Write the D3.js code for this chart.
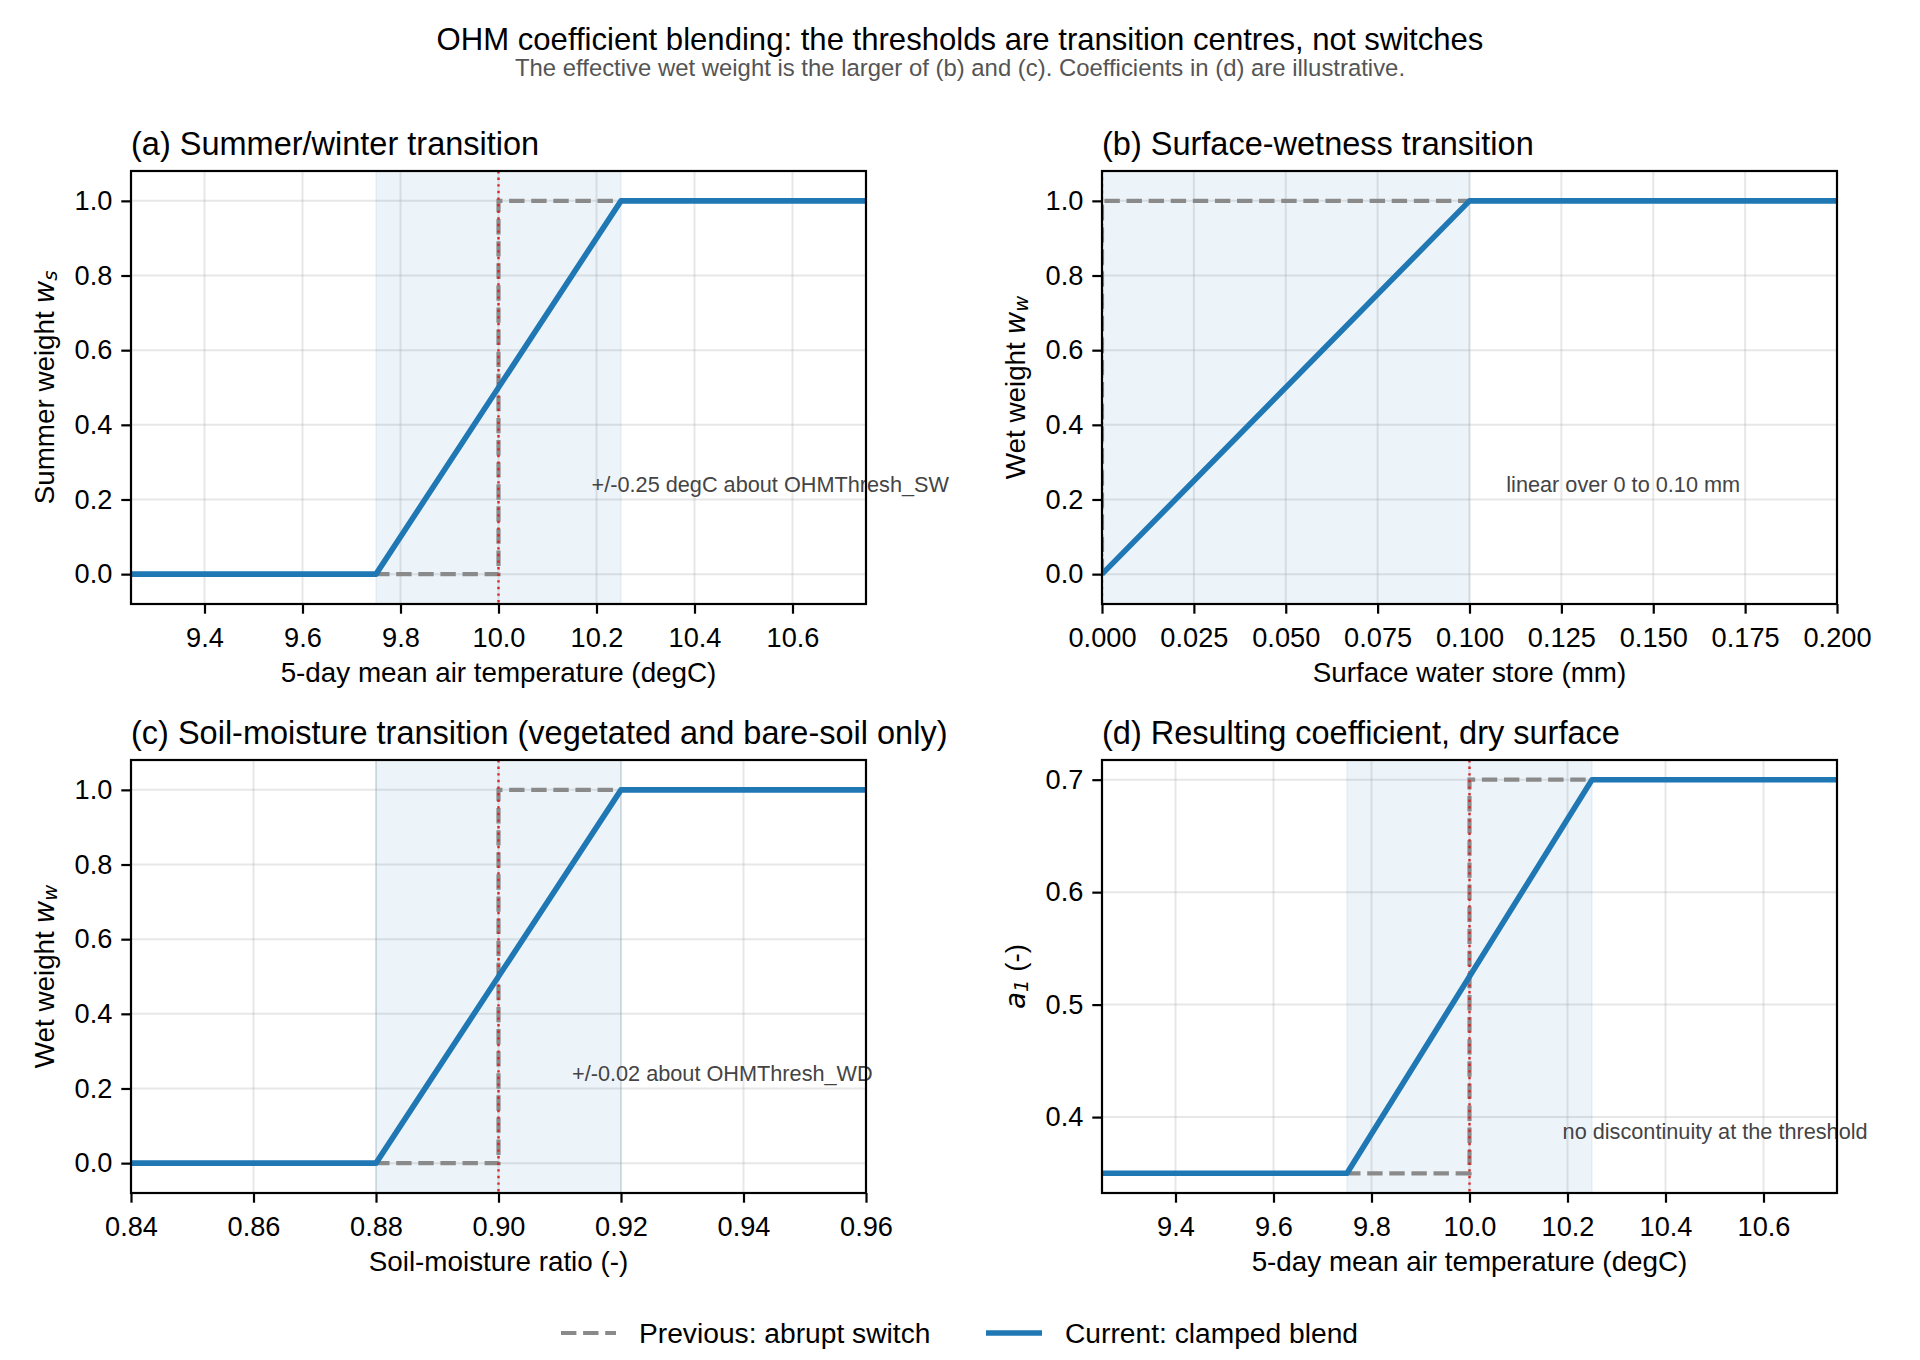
<!DOCTYPE html>
<html><head><meta charset="utf-8">
<script src="https://cdn.jsdelivr.net/npm/d3@7"></script>
<style>
body{margin:0;background:#fff;}
text{font-family:"Liberation Sans",Arial,Helvetica,sans-serif;}
</style>
</head><body>
<svg id="chart" width="1920" height="1360" xmlns="http://www.w3.org/2000/svg"></svg>
<script>
// ---------------- DATA ----------------
const tempTicks = [9.4, 9.6, 9.8, 10.0, 10.2, 10.4, 10.6];
const waterTicks = [0, 0.025, 0.05, 0.075, 0.1, 0.125, 0.15, 0.175, 0.2];
const soilTicks = [0.84, 0.86, 0.88, 0.90, 0.92, 0.94, 0.96];
const weightTicks = [0, 0.2, 0.4, 0.6, 0.8, 1.0];
const coefTicks = [0.4, 0.5, 0.6, 0.7];

// (a) summer/winter weight vs temperature
const aCurrentX = [9.25, 9.75, 10.25, 10.75];
const aCurrentY = [0, 0, 1, 1];
const aPreviousX = [9.25, 10.0, 10.0, 10.75];
const aPreviousY = [0, 0, 1, 1];
const aThreshold = 10.0;
const aBand = [9.75, 10.25];

// (b) wet weight vs surface water store
const bCurrentX = [0, 0.1, 0.2];
const bCurrentY = [0, 1, 1];
const bPreviousX = [0, 0, 0.2];
const bPreviousY = [0, 1, 1];
const bThreshold = 0;
const bBand = [0, 0.1];

// (c) wet weight vs soil-moisture ratio
const cCurrentX = [0.84, 0.88, 0.92, 0.96];
const cCurrentY = [0, 0, 1, 1];
const cPreviousX = [0.84, 0.90, 0.90, 0.96];
const cPreviousY = [0, 0, 1, 1];
const cThreshold = 0.90;
const cBand = [0.88, 0.92];

// (d) resulting coefficient a1 vs temperature
const dCurrentX = [9.25, 9.75, 10.25, 10.75];
const dCurrentY = [0.35, 0.35, 0.7, 0.7];
const dPreviousX = [9.25, 10.0, 10.0, 10.75];
const dPreviousY = [0.35, 0.35, 0.7, 0.7];
const dThreshold = 10.0;
const dBand = [9.75, 10.25];

const panelTitles = [
  "(a) Summer/winter transition",
  "(b) Surface-wetness transition",
  "(c) Soil-moisture transition (vegetated and bare-soil only)",
  "(d) Resulting coefficient, dry surface"
];
const xLabels = [
  "5-day mean air temperature (degC)",
  "Surface water store (mm)",
  "Soil-moisture ratio (-)",
  "5-day mean air temperature (degC)"
];
const notes = [
  "+/-0.25 degC about OHMThresh_SW",
  "linear over 0 to 0.10 mm",
  "+/-0.02 about OHMThresh_WD",
  "no discontinuity at the threshold"
];
const noteX = [10.19, 0.11, 0.912, 10.19];
const noteY = [0.24, 0.24, 0.24, 0.387];
const legendLabels = ["Previous: abrupt switch", "Current: clamped blend"];

// ---------------- STYLE ----------------
const BLUE = "#1f77b4", GRAY = "#8a8a8a", RED = "#d62728";
const svg = d3.select("#chart");

svg.append("text").attr("x", 960).attr("y", 39).attr("text-anchor", "middle")
  .attr("dominant-baseline", "central").attr("font-size", 31.1).attr("fill", "#000")
  .text("OHM coefficient blending: the thresholds are transition centres, not switches");
svg.append("text").attr("x", 960).attr("y", 67).attr("text-anchor", "middle")
  .attr("dominant-baseline", "central").attr("font-size", 23.9).attr("fill", "#555")
  .text("The effective wet weight is the larger of (b) and (c). Coefficients in (d) are illustrative.");

const panels = [
  {x0:131, x1:866, y0:171, y1:604, xd:[9.25,10.75], yd:[-0.08,1.08], xt:tempTicks, yt:weightTicks, xf:d3.format(".1f"), yf:d3.format(".1f"),
   cx:aCurrentX, cy:aCurrentY, px:aPreviousX, py:aPreviousY, th:aThreshold, band:aBand, ylab:["Summer weight ", "w", "s", ""]},
  {x0:1102, x1:1837, y0:171, y1:604, xd:[0,0.2], yd:[-0.08,1.08], xt:waterTicks, yt:weightTicks, xf:d3.format(".3f"), yf:d3.format(".1f"),
   cx:bCurrentX, cy:bCurrentY, px:bPreviousX, py:bPreviousY, th:bThreshold, band:bBand, ylab:["Wet weight ", "w", "w", ""]},
  {x0:131, x1:866, y0:760, y1:1193, xd:[0.84,0.96], yd:[-0.08,1.08], xt:soilTicks, yt:weightTicks, xf:d3.format(".2f"), yf:d3.format(".1f"),
   cx:cCurrentX, cy:cCurrentY, px:cPreviousX, py:cPreviousY, th:cThreshold, band:cBand, ylab:["Wet weight ", "w", "w", ""]},
  {x0:1102, x1:1837, y0:760, y1:1193, xd:[9.25,10.75], yd:[0.3325,0.7175], xt:tempTicks, yt:coefTicks, xf:d3.format(".1f"), yf:d3.format(".1f"),
   cx:dCurrentX, cy:dCurrentY, px:dPreviousX, py:dPreviousY, th:dThreshold, band:dBand, ylab:["", "a", "1", " (-)"]}
];

panels.forEach((p, i) => {
  const x = d3.scaleLinear().domain(p.xd).range([p.x0, p.x1]);
  const y = d3.scaleLinear().domain(p.yd).range([p.y1, p.y0]);
  const g = svg.append("g");
  const clipId = "clip" + i;
  svg.append("clipPath").attr("id", clipId).append("rect")
    .attr("x", p.x0).attr("y", p.y0).attr("width", p.x1 - p.x0).attr("height", p.y1 - p.y0);

  // grid
  const grid = g.append("g").attr("clip-path", `url(#${clipId})`);
  p.xt.forEach(t => grid.append("line").attr("x1", x(t)).attr("x2", x(t)).attr("y1", p.y0).attr("y2", p.y1)
    .attr("stroke", "#b0b0b0").attr("stroke-opacity", 0.3).attr("stroke-width", 2));
  p.yt.forEach(t => grid.append("line").attr("y1", y(t)).attr("y2", y(t)).attr("x1", p.x0).attr("x2", p.x1)
    .attr("stroke", "#b0b0b0").attr("stroke-opacity", 0.3).attr("stroke-width", 2));

  const plot = g.append("g").attr("clip-path", `url(#${clipId})`);
  // band
  plot.append("rect").attr("x", x(p.band[0])).attr("width", x(p.band[1]) - x(p.band[0]))
    .attr("y", p.y0).attr("height", p.y1 - p.y0)
    .attr("fill", BLUE).attr("fill-opacity", 0.08)
    .attr("stroke", BLUE).attr("stroke-opacity", 0.08).attr("stroke-width", 1.5);

  const line = d3.line().x(d => x(d[0])).y(d => y(d[1]));
  // previous (dashed)
  plot.append("path").datum(d3.zip(p.px, p.py)).attr("d", line)
    .attr("fill", "none").attr("stroke", GRAY).attr("stroke-width", 4.2)
    .attr("stroke-dasharray", "15.4,6.7");
  // threshold
  plot.append("line").attr("x1", x(p.th)).attr("x2", x(p.th)).attr("y1", p.y0).attr("y2", p.y1)
    .attr("stroke", RED).attr("stroke-width", 2.4).attr("stroke-dasharray", "2.4,4.2");
  // current
  plot.append("path").datum(d3.zip(p.cx, p.cy)).attr("d", line)
    .attr("fill", "none").attr("stroke", BLUE).attr("stroke-width", 5.6).attr("stroke-linejoin", "round");

  // note
  g.append("text").attr("x", x(noteX[i])).attr("y", y(noteY[i])).attr("dominant-baseline", "central")
    .attr("font-size", 21.7).attr("fill", "#444").text(notes[i]);

  // axes
  const xa = g.append("g").attr("transform", `translate(0,${p.y1})`)
    .call(d3.axisBottom(x).tickValues(p.xt).tickFormat(p.xf).tickSizeOuter(0).tickSize(9.7).tickPadding(14));
  const ya = g.append("g").attr("transform", `translate(${p.x0},0)`)
    .call(d3.axisLeft(y).tickValues(p.yt).tickFormat(p.yf).tickSizeOuter(0).tickSize(9.7).tickPadding(9));
  [xa, ya].forEach(a => {
    a.select(".domain").remove();
    a.selectAll(".tick line").attr("stroke", "#000").attr("stroke-width", 2.2);
    a.selectAll(".tick text").attr("font-size", 27.2).attr("fill", "#000")
      .attr("font-family", '"Liberation Sans",Arial,Helvetica,sans-serif');
  });

  // frame
  g.append("rect").attr("x", p.x0).attr("y", p.y0).attr("width", p.x1 - p.x0).attr("height", p.y1 - p.y0)
    .attr("fill", "none").attr("stroke", "#000").attr("stroke-width", 2.2);

  // title
  g.append("text").attr("x", p.x0).attr("y", p.y0 - 16).attr("font-size", 32.5).attr("fill", "#000")
    .text(panelTitles[i]);

  // x label
  g.append("text").attr("x", (p.x0 + p.x1) / 2).attr("y", p.y1 + 68).attr("text-anchor", "middle")
    .attr("dominant-baseline", "central").attr("font-size", 27.8).attr("fill", "#000").text(xLabels[i]);

  // y label
  const yl = g.append("text").attr("transform", `translate(${p.x0 - 87},${(p.y0 + p.y1) / 2}) rotate(-90)`)
    .attr("text-anchor", "middle").attr("dominant-baseline", "central").attr("font-size", 27.8).attr("fill", "#000");
  if (p.ylab[0]) yl.append("tspan").text(p.ylab[0]);
  yl.append("tspan").attr("font-style", "italic").attr("font-family", '"DejaVu Sans",sans-serif').text(p.ylab[1]);
  yl.append("tspan").attr("font-style", "italic").attr("font-family", '"DejaVu Sans",sans-serif')
    .attr("font-size", 19.5).attr("dy", 6).text(p.ylab[2]);
  if (p.ylab[3]) yl.append("tspan").attr("dy", -6).text(p.ylab[3]);
});

// legend
const leg = svg.append("g");
const legY = 1333;
leg.append("line").attr("x1", 561).attr("x2", 616).attr("y1", legY).attr("y2", legY)
  .attr("stroke", GRAY).attr("stroke-width", 4.2).attr("stroke-dasharray", "15.4,6.7");
leg.append("text").attr("x", 639).attr("y", legY).attr("dominant-baseline", "central")
  .attr("font-size", 28.2).attr("fill", "#000").text(legendLabels[0]);
leg.append("line").attr("x1", 986).attr("x2", 1042).attr("y1", legY).attr("y2", legY)
  .attr("stroke", BLUE).attr("stroke-width", 5.6);
leg.append("text").attr("x", 1065).attr("y", legY).attr("dominant-baseline", "central")
  .attr("font-size", 28.2).attr("fill", "#000").text(legendLabels[1]);
</script>
</body></html>
